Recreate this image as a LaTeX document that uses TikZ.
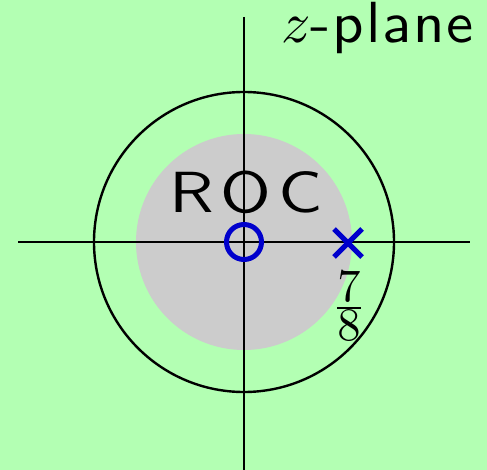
\documentclass[tikz,border=0pt]{standalone}
\usepackage{fontspec}
\IfFontExistsTF{lmsans10-regular.otf}
  {\newfontfamily\refsans{lmsans10-regular.otf}[LetterSpace=10]
   \newfontfamily\planesans{lmsans10-regular.otf}[LetterSpace=3]}
  {\newfontfamily\refsans{Latin Modern Sans}[LetterSpace=10]
   \newfontfamily\planesans{Latin Modern Sans}[LetterSpace=3]}
\DeclareFontShape{OML}{cmm}{m}{it}{<->cmmi10}{}
\DeclareFontShape{OMS}{cmsy}{m}{n}{<->cmsy10}{}
\DeclareFontShape{OT1}{cmr}{m}{n}{<->cmr10}{}
\DeclareFontShape{OMX}{cmex}{m}{n}{<->cmex10}{}
\usetikzlibrary{calc}
\definecolor{bggreen}{RGB}{179,255,179}
\definecolor{rocgray}{RGB}{204,204,204}
\definecolor{pzblue}{RGB}{0,0,204}
\newcommand{\widetext}[1]{\scalebox{1.19}[1]{#1}}
\newcommand{\planetext}[1]{\scalebox{1.05}[1]{#1}}
\tikzset{
  axisline/.style={line width=2.6pt, black},
  ucircle/.style={line width=2.4pt, black},
  pzmark/.style={line width=5pt, pzblue},
  bigsans/.style={inner sep=0pt, font=\refsans\fontsize{58}{60}\selectfont},
  titlesans/.style={inner sep=0pt, font=\planesans\fontsize{58}{60}\selectfont},
}
\begin{document}
\begin{tikzpicture}[x=1pt,y=-1pt]
\fill[bggreen] (0,0) rectangle (487,470);
\useasboundingbox (0,0) rectangle (487,470);
\coordinate (O) at (244,242);
\fill[rocgray] (O) circle[radius=108];
\draw[ucircle] (O) circle[radius=150];
\coordinate (xl) at (18,242);
\coordinate (xr) at (470,242);
\coordinate (yt) at (244,17);
\coordinate (yb) at (244,470);
\draw[axisline] (xl) -- (xr);
\draw[axisline] (yt) -- (yb);
\draw[pzmark] (O) circle[radius=17.5];
\coordinate (P) at (348,243);
\draw[pzmark] ($(P)+(-14,-14)$) -- ($(P)+(14,14)$);
\draw[pzmark] ($(P)+(-14,14)$) -- ($(P)+(14,-14)$);
\node[bigsans, anchor=base west] (roc) at (169,213) {\widetext{ROC}};
\node[inner sep=0pt, font=\fontsize{46.5}{48}\selectfont] (frac) at (349,306) {$\textstyle\frac{\displaystyle 7}{\displaystyle 8}$};
\node[titlesans, anchor=base west] (zp) at (281,43) {$z$\planetext{-plane}};
\end{tikzpicture}
\end{document}
